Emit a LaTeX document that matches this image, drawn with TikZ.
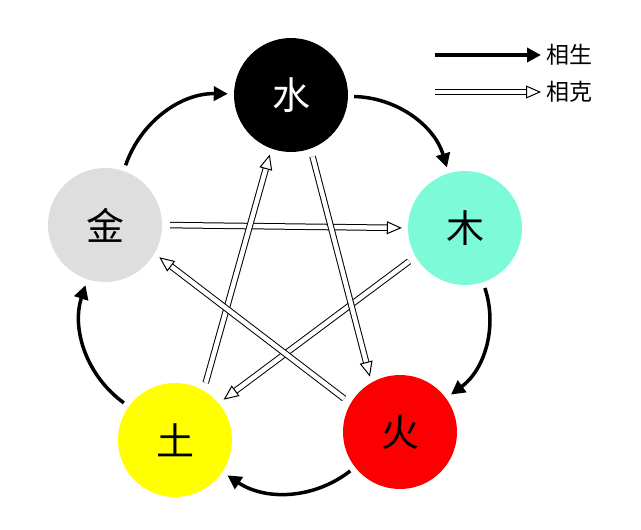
\documentclass[tikz,border=0pt]{standalone}
\usepackage{fontspec}
\newfontfamily\cjk{Noto Sans CJK SC}
\usetikzlibrary{arrows.meta}
\definecolor{muColor}{RGB}{125,250,215}
\definecolor{jinColor}{RGB}{222,222,222}
\definecolor{huoColor}{RGB}{250,0,0}
\definecolor{tuColor}{RGB}{255,255,0}
\tikzset{
  element/.style={circle, minimum size=114pt, inner sep=0pt, font=\cjk\fontsize{38}{38}\selectfont},
  sheng/.style={line width=3.5pt, -{Triangle[length=14pt,width=14pt]}, shorten <=6pt, shorten >=6pt},
  ke/.style={draw=black, line width=1pt, double=white, double distance=4.5pt, -{Triangle[open,length=15pt,width=13pt]}, shorten <=8pt, shorten >=6pt},
  legendtext/.style={anchor=west, font=\cjk\fontsize{23}{23}\selectfont}
}
\begin{document}
\begin{tikzpicture}[x=1pt,y=-1pt]
  \useasboundingbox (0,0) rectangle (641,530);
  %elements
  \node[element, fill=black, text=white] (shui) at (291,95) {水};
  \node[element, fill=muColor] (mu) at (465,228) {木};
  \node[element, fill=huoColor] (huo) at (400,432) {火};
  \node[element, fill=tuColor] (tu) at (175,440) {土};
  \node[element, fill=jinColor] (jin) at (105,225) {金};

  %generating cycle
  \draw[sheng] (shui) to[bend left=36] (mu);
  \draw[sheng] (mu) to[bend left=36] (huo);
  \draw[sheng] (huo) to[bend left=36] (tu);
  \draw[sheng] (tu) to[bend left=36] (jin);
  \draw[sheng] (jin) to[bend left=36] (shui);

  %overcoming cycle
  \draw[ke] (jin.east) -- (mu.west);
  \draw[ke] (mu.210) -- (tu.40);
  \draw[ke] (tu.60) -- (shui.250);
  \draw[ke] (shui.290) -- (huo.120);
  \draw[ke] (huo.150) -- (jin.330);

  %legend
  \coordinate (s0) at (435,55);
  \coordinate (s1) at (541,55);
  \coordinate (k0) at (435,92);
  \coordinate (k1) at (541,92);
  \draw[sheng, shorten <=0pt, shorten >=0pt] (s0) -- (s1);
  \draw[ke, shorten <=0pt, shorten >=0pt] (k0) -- (k1);
  \node[legendtext] (lsheng) at (543,55) {相生};
  \node[legendtext] (lke) at (543,92) {相克};
\end{tikzpicture}
\end{document}
